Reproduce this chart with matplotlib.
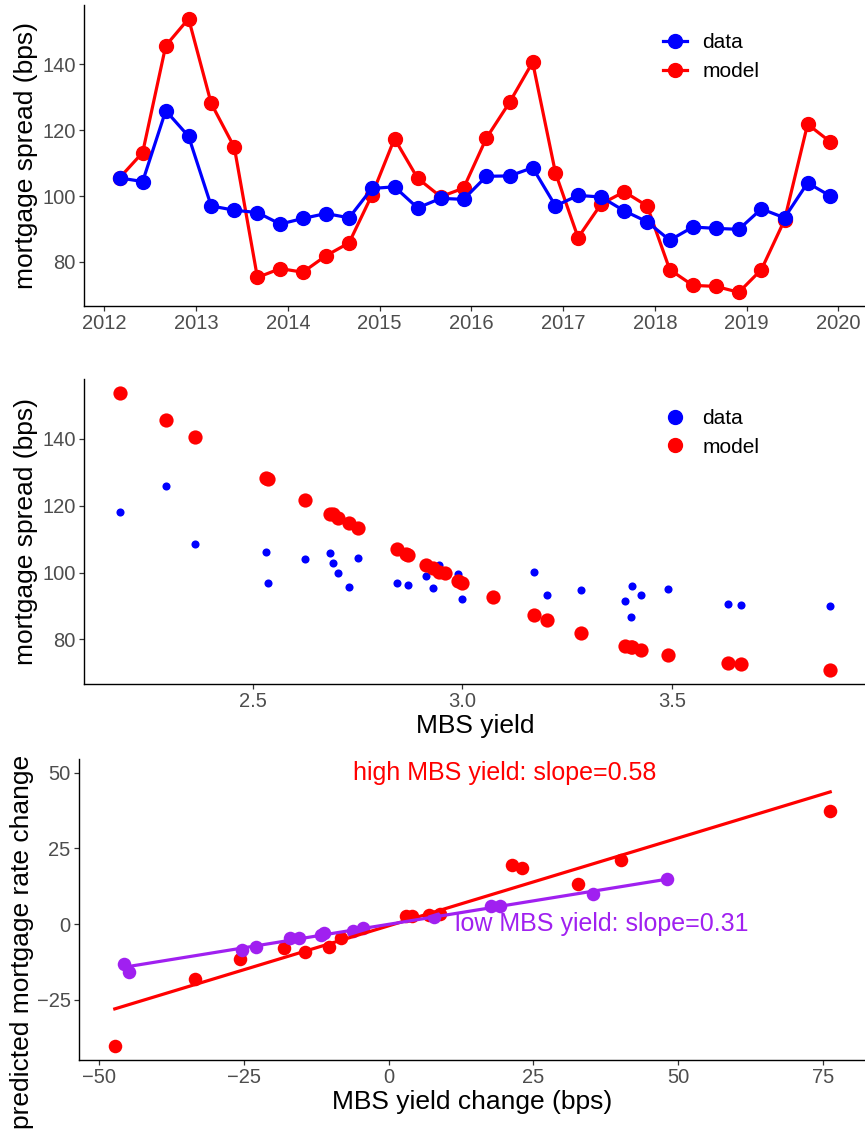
import numpy as np
import pandas as pd
import matplotlib
matplotlib.use('Agg')
from matplotlib import pyplot as plt
import matplotlib.dates as mdates
from matplotlib.lines import Line2D

plt.rcParams['font.family'] = ['Liberation Sans', 'DejaVu Sans']

# quarterly observations, Mar 2012 - Dec 2019
dates = pd.date_range('2012-03-01', periods=32, freq='3MS')

spread_data = [105.5, 104.4, 125.9, 118.1, 97.0, 95.7, 95.0, 91.5,
               93.2, 94.7, 93.4, 102.3, 102.8, 96.4, 99.3, 99.0,
               106.0, 106.1, 108.6, 97.0, 100.2, 99.7, 95.5, 92.2,
               86.6, 90.6, 90.2, 89.9, 96.1, 93.4, 104.0, 100.0]
spread_model = [105.5, 113.2, 145.6, 153.8, 128.1, 114.8, 75.3, 78.0,
                76.9, 81.9, 85.8, 100.3, 117.4, 105.4, 99.8, 102.4,
                117.6, 128.4, 140.6, 107.0, 87.4, 97.6, 101.3, 97.0,
                77.7, 72.9, 72.6, 70.8, 77.7, 92.7, 121.8, 116.4]
mbs_yield = [2.866, 2.751, 2.294, 2.182, 2.537, 2.729, 3.490, 3.387,
             3.427, 3.284, 3.202, 2.945, 2.691, 2.870, 2.959, 2.913,
             2.685, 2.532, 2.362, 2.844, 3.171, 2.989, 2.929, 3.000,
             3.403, 3.634, 3.665, 3.878, 3.405, 3.072, 2.625, 2.704]

# quarter-on-quarter changes, split by MBS yield regime
high_dy = [-47.3, -33.5, -25.7, -18.0, -14.4, -10.3, -8.2, 3.0,
           4.0, 7.0, 8.9, 21.3, 23.1, 32.7, 40.2, 76.3]
high_dr = [-40.4, -18.3, -11.4, -7.8, -9.2, -7.7, -4.7, 2.7,
           2.7, 3.0, 3.3, 19.5, 18.4, 13.2, 21.2, 37.2]
low_dy = [-45.7, -44.9, -25.4, -22.9, -17.0, -15.4, -11.7, -11.1,
          -6.2, -4.4, 7.9, 17.7, 19.3, 35.3, 48.1]
low_dr = [-13.3, -15.8, -8.6, -7.7, -4.7, -4.7, -3.6, -2.9,
          -2.3, -1.4, 2.2, 6.0, 6.0, 9.9, 14.8]
high_fit = (0.58, -0.6)
low_fit = (0.31, -0.1)
high_label = 'high MBS yield: slope=0.58'
low_label = 'low MBS yield: slope=0.31'

BLUE = '#0000FF'
RED = '#FF0000'
PURPLE = '#A020F0'
TICK_GREY = '#4D4D4D'
W, H = 865, 1131


def expand(values, frac=0.05):
    lo, hi = min(values), max(values)
    pad = (hi - lo) * frac
    return lo - pad, hi + pad


def px_axes(fig, left, top, right, bottom):
    return fig.add_axes([left / W, 1 - bottom / H, (right - left) / W, (bottom - top) / H])


def style(ax):
    for s in ['top', 'right']:
        ax.spines[s].set_visible(False)
    for s in ['left', 'bottom']:
        ax.spines[s].set_linewidth(1.0)
        ax.spines[s].set_color('black')
    ax.tick_params(length=3.5, width=0.9, color='#333333', labelcolor=TICK_GREY,
                   labelsize=14.5, pad=2.5)


fig = plt.figure(figsize=(W / 100, H / 100), dpi=100)

# --- spread over time ---
ax1 = px_axes(fig, 84, 5, 866, 306)
ax1.plot(dates, spread_model, color=RED, lw=2.3, marker='o', ms=10, zorder=2)
ax1.plot(dates, spread_data, color=BLUE, lw=2.3, marker='o', ms=10, zorder=3)
t0, t1 = mdates.date2num(dates[0]), mdates.date2num(dates[-1])
pad = (t1 - t0) * 0.05
ax1.set_xlim(t0 - pad, t1 + pad)
ax1.set_ylim(*expand(spread_data + spread_model))
ax1.xaxis.set_major_locator(mdates.YearLocator())
ax1.xaxis.set_major_formatter(mdates.DateFormatter('%Y'))
ax1.set_yticks([80, 100, 120, 140])
ax1.set_ylabel('mortgage spread (bps)', fontsize=19, labelpad=3)
style(ax1)
handles = [Line2D([], [], color=BLUE, lw=2.3, marker='o', ms=10),
           Line2D([], [], color=RED, lw=2.3, marker='o', ms=10)]
ax1.legend(handles, ['data', 'model'], loc='upper left', bbox_to_anchor=(0.727, 0.94),
           frameon=False, fontsize=15, handlelength=1.15, handletextpad=0.75,
           borderpad=0, labelspacing=0.45)

# --- spread vs MBS yield ---
ax2 = px_axes(fig, 84, 379, 866, 684)
ax2.scatter(mbs_yield, spread_data, s=34, color=BLUE, linewidths=0, zorder=2)
ax2.scatter(mbs_yield, spread_model, s=105, color=RED, linewidths=0, zorder=3)
ax2.set_xlim(*expand(mbs_yield))
ax2.set_ylim(*expand(spread_data + spread_model))
ax2.set_xticks([2.5, 3.0, 3.5])
ax2.set_xticklabels(['2.5', '3.0', '3.5'])
ax2.set_yticks([80, 100, 120, 140])
ax2.set_xlabel('MBS yield', fontsize=19, labelpad=2)
ax2.set_ylabel('mortgage spread (bps)', fontsize=19, labelpad=3)
style(ax2)
handles = [Line2D([], [], color=BLUE, lw=0, marker='o', ms=10),
           Line2D([], [], color=RED, lw=0, marker='o', ms=10)]
ax2.legend(handles, ['data', 'model'], loc='upper left', bbox_to_anchor=(0.727, 0.935),
           frameon=False, fontsize=15, handlelength=1.15, handletextpad=0.75,
           borderpad=0, labelspacing=0.45)

# --- predicted rate change vs yield change ---
ax3 = px_axes(fig, 79, 759, 866, 1060)
ax3.scatter(high_dy, high_dr, s=95, color=RED, linewidths=0, zorder=2)
ax3.scatter(low_dy, low_dr, s=95, color=PURPLE, linewidths=0, zorder=3)
xs = np.array([min(high_dy), max(high_dy)])
ax3.plot(xs, high_fit[0] * xs + high_fit[1], color=RED, lw=2.3, zorder=4)
xs = np.array([min(low_dy), max(low_dy)])
ax3.plot(xs, low_fit[0] * xs + low_fit[1], color=PURPLE, lw=2.3, zorder=5)
ax3.text(20, 50, high_label, color=RED, fontsize=18, ha='center', va='center')
ax3.text(36.8, 0, low_label, color=PURPLE, fontsize=18, ha='center', va='center')
ax3.set_xlim(*expand(high_dy + low_dy))
ax3.set_ylim(*expand(high_dr + low_dr + [50]))
ax3.set_xticks([-50, -25, 0, 25, 50, 75])
ax3.set_yticks([-25, 0, 25, 50])
ax3.set_xlabel('MBS yield change (bps)', fontsize=19, labelpad=2)
ax3.set_ylabel('predicted mortgage rate change', fontsize=19)
ax3.yaxis.set_label_coords(-0.057, 0.393)
style(ax3)

fig.savefig('out.png', dpi=100)
